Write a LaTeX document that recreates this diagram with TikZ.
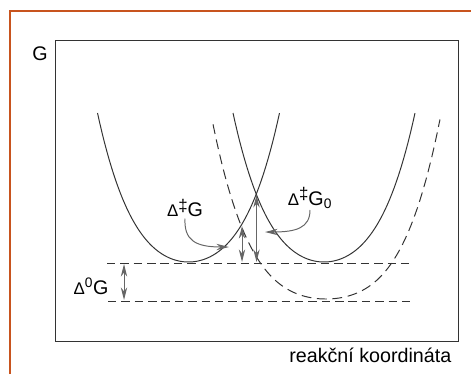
\documentclass[tikz,border=0pt]{standalone}
\usepackage{fontspec}
\setmainfont{Liberation Sans}
\usetikzlibrary{arrows.meta}
\definecolor{pageorange}{RGB}{200,84,30}

\newcommand{\dsmall}{\fontsize{12}{14}\selectfont}

\begin{document}
\begin{tikzpicture}[
    x=0.025cm, y=-0.025cm,
    every node/.style={font=\fontsize{14}{16}\selectfont, inner sep=1pt},
    >={Stealth[length=9pt,width=4.5pt]},
    curve/.style={line width=0.7pt, black!80},
    dashcurve/.style={curve, dash pattern=on 7pt off 4pt},
    level/.style={line width=0.7pt, black!80, dash pattern=on 6pt off 3.5pt},
    gap/.style={<->, line width=0.7pt, black!60},
    pointer/.style={->, line width=0.7pt, black!60},
]

% Parameters (scan pixels)
\def\ymin{262}
\def\depth{149}
\def\halfw{91}
\def\xL{188.5}
\def\xR{324}

\useasboundingbox (0,0) rectangle (471,374);

% === Page frame ===
\draw[line width=1.2pt, pageorange] (10,374) -- (10,11) -- (471,11);

% === Plot box and axis labels ===
\draw[line width=0.7pt, black!80] (55,40) rectangle (458,341);
\node (axisG) at (40,54) {G};
\node[anchor=base east] (axisRC) at (453,362) {reakční koordináta};

% === Free energy curves ===
\draw[curve, domain=-1:1, samples=80, variable=\u]
    plot ({\xL + \u*\halfw}, {\ymin - \depth*(0.6*\u*\u + 0.4*\u*\u*\u*\u)});
\draw[curve, domain=-1:1, samples=80, variable=\u]
    plot ({\xR + \u*\halfw}, {\ymin - \depth*(0.6*\u*\u + 0.4*\u*\u*\u*\u)});
% shifted product curve (dashed)
\draw[dashcurve, domain=-0.974:0.983, samples=80, variable=\u]
    plot ({326 + \u*116}, {299 - 190*(0.4*\u*\u + 0.6*\u*\u*\u*\u)});

% === Energy levels ===
\draw[level] (107,263) -- (410,263);
\draw[level] (108,301) -- (412,301);

% === Reaction free energy ===
\coordinate (lvlTop) at (124,264);
\coordinate (lvlBot) at (124,300);
\draw[gap] (lvlTop) -- (lvlBot);
\node (dG0) at (91,286) {{\dsmall Δ}\textsuperscript{0}G};

% === Activation barriers ===
\coordinate (crossD) at (242,226);
\coordinate (baseD) at (242,262);
\coordinate (crossS) at (256.5,195);
\coordinate (baseS) at (256.5,262);
\draw[gap] (crossD) -- (baseD);
\draw[gap] (crossS) -- (baseS);

\node (dGa) at (185,208) {{\dsmall Δ}\raisebox{0.5ex}{\dsmall ‡}G};
\node (dGa0) at (310,198) {{\dsmall Δ}\raisebox{0.5ex}{\dsmall ‡}G\textsubscript{0}};

\coordinate (tipA) at (229,247);
\coordinate (tipB) at (265,232);
\draw[pointer] (dGa.south) .. controls (184,240) and (195,247) .. (tipA);
\draw[pointer] (dGa0.south) .. controls (310,228) and (296,232) .. (tipB);

\end{tikzpicture}
\end{document}
